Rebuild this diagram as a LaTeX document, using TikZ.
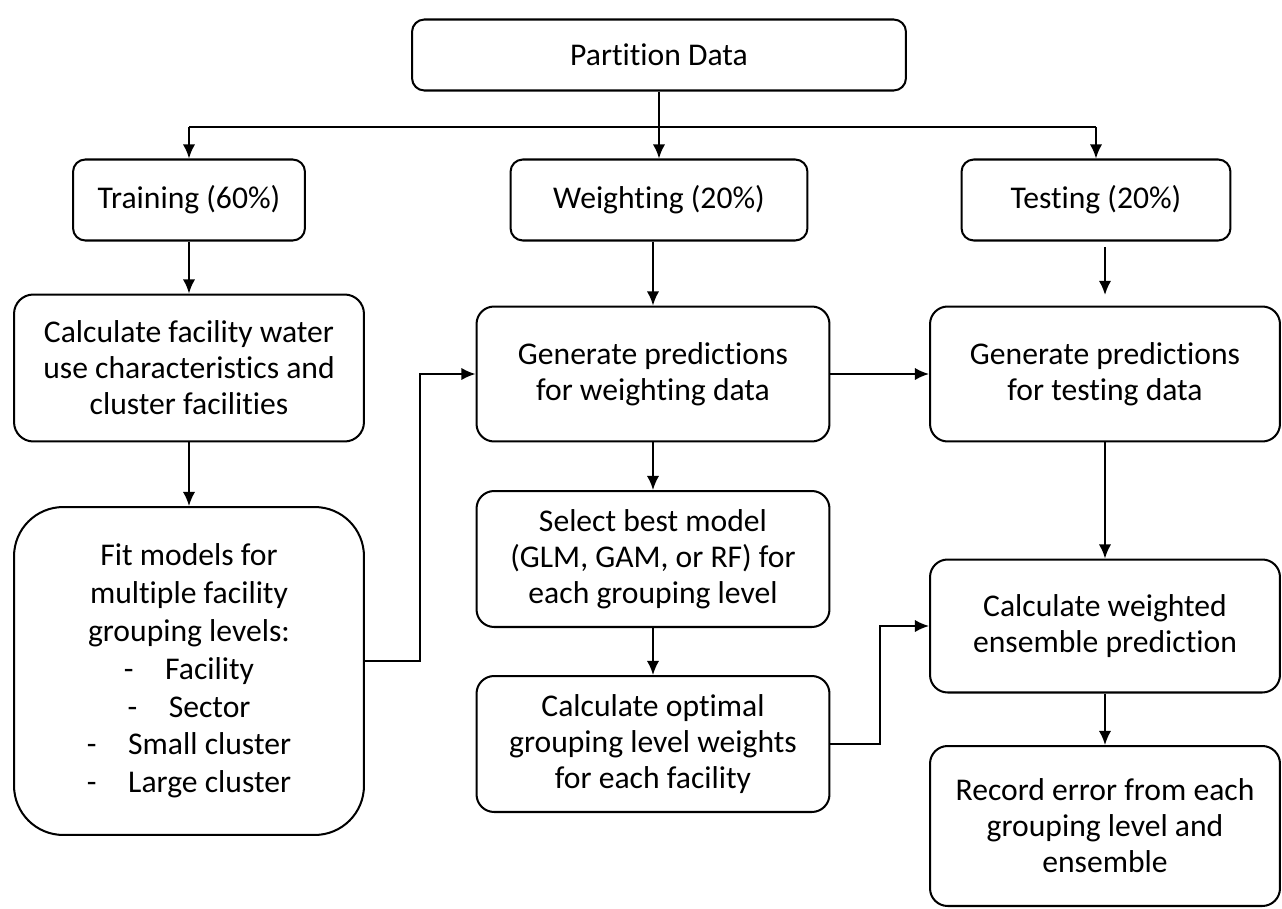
\documentclass[tikz,border=0pt]{standalone}
\usepackage{fontspec}
\setmainfont{Carlito}[Ligatures=NoCommon]
\usetikzlibrary{arrows.meta}
\begin{document}
\begin{tikzpicture}[x=0.02cm,y=-0.02cm,
    box/.style={draw, line width=1.15pt, rounded corners=#1, align=center,
      inner sep=0pt, font=\fontsize{18}{20.5}\selectfont},
    box/.default=7pt,
    flow/.style={-{Latex[length=8pt,width=7pt]}, line width=1.15pt},
    link/.style={line width=1.15pt}]
  \useasboundingbox (0,0) rectangle (1282,909);

  % top box
  \node[box, minimum width=9.88cm, minimum height=1.42cm] (part) at (659,55) {Partition Data};

  % three partitions
  \node[box, minimum width=4.64cm, minimum height=1.62cm] (train) at (189,200) {Training (60\%)};
  \node[box, minimum width=5.94cm, minimum height=1.62cm] (weigh) at (659,200) {Weighting (20\%)};
  \node[box, minimum width=5.38cm, minimum height=1.62cm] (test) at (1096,200) {Testing (20\%)};

  % training column
  \node[box=11pt, minimum width=7cm, minimum height=2.94cm] (calcfac) at (189,368)
    {Calculate facility water\\use characteristics and\\cluster facilities};
  \node[box=28pt, minimum width=7cm, minimum height=6.56cm, font=\fontsize{18}{21.5}\selectfont] (fit) at (189,671)
    {Fit models for\\multiple facility\\grouping levels:\\
     -\hspace{1em}Facility\\-\hspace{1em}Sector\\
     -\hspace{1em}Small cluster\\-\hspace{1em}Large cluster};

  % weighting column
  \node[box=10pt, minimum width=7.06cm, minimum height=2.7cm] (genw) at (653,374)
    {Generate predictions\\for weighting data};
  \node[box=10pt, minimum width=7.06cm, minimum height=2.72cm] (select) at (653,559)
    {Select best model\\(GLM, GAM, or RF) for\\each grouping\ level};
  \node[box=10pt, minimum width=7.06cm, minimum height=2.72cm] (optw) at (653,744)
    {Calculate optimal\\grouping level weights\\for each facility};

  % testing column
  \node[box=10pt, minimum width=7cm, minimum height=2.7cm] (gent) at (1105,374)
    {Generate predictions\\for testing data};
  \node[box=10pt, minimum width=7cm, minimum height=2.66cm] (ens) at (1105,626)
    {Calculate weighted\\ensemble prediction};
  \node[box=10pt, minimum width=7cm, minimum height=3.2cm] (rec) at (1105,826)
    {Record error from each\\grouping level and\\ensemble};

  % split of the data
  \coordinate (split) at (659,127);
  \draw[link] (train.north |- split) -- (test.north |- split);
  \draw[flow] (part.south) -- (weigh.north);
  \draw[flow] (train.north |- split) -- (train.north);
  \draw[flow] (test.north |- split) -- (test.north);

  % vertical arrows
  \draw[flow] (train) -- (calcfac);
  \draw[flow] (calcfac) -- (fit);
  \draw[flow] (weigh.south -| genw.north) -- (genw.north);
  \draw[flow] (genw) -- (select);
  \draw[flow] (select) -- (optw);
  \draw[flow, shorten <=3pt, shorten >=6pt] (test.south -| gent.north) -- (gent.north);
  \draw[flow] (gent) -- (ens);
  \draw[flow] (ens) -- (rec);

  % elbow arrows
  \coordinate (fitout) at (364,661);
  \draw[flow] (fitout) -- (420,661) |- (genw.west);
  \draw[flow] (optw.east) -- (880,744) |- (ens.west);
  \draw[flow] (genw) -- (gent);
\end{tikzpicture}
\end{document}
